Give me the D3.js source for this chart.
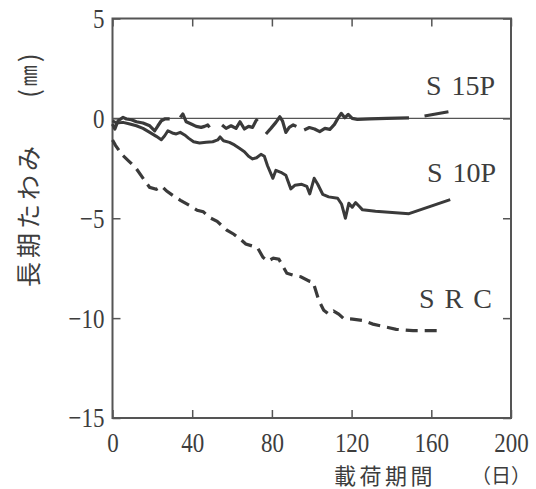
<!DOCTYPE html>
<html>
<head>
<meta charset="utf-8">
<script src="https://cdn.jsdelivr.net/npm/d3@7"></script>
<style>
    body { margin: 0; background: #fff; }
    svg { display: block; }
    .tick text { font-family: "Liberation Serif", serif; font-size: 28px; fill: #3d3d3d; }
    .tick line { stroke: #555; stroke-width: 1.5; }
</style>
</head>
<body>
<svg id="chart" width="536" height="489"></svg>
<script>
// days under load / long-term deflection (mm), null = gap in the drawn line
const s15pDays = [0, 1.2, 2.8, 5.3, 7, 9.5, 12, 15.3, 18.7, 21.2, 22.8, 24.5, 26.2, 28.7, 31,
    34, 35.3, 37, 39.5, 42, 44.5, 46.2, 47.8, 48.7, 52,
    55, 57, 59.5, 62, 64, 66.2, 68.3, 70.3, 72, 72.8, 75,
    77, 79.5, 82, 84, 85.3, 87, 88.7, 90.7, 92.3, 94,
    96.2, 98.8, 101.4, 104, 106.6, 109.1, 111.4, 113.1, 114.8, 116.6, 118.3, 120.3, 122.9, 129, 137.6, 148.8, 152,
    156.6, 168.6];
const s15pVals = [-0.28, -0.53, -0.12, 0.05, -0.03, -0.07, -0.17, -0.23, -0.37, -0.62, -0.37, -0.12, -0.03, -0.03, null,
    0.05, 0.22, -0.17, -0.28, -0.4, -0.45, -0.4, -0.33, -0.45, null,
    -0.33, -0.5, -0.37, -0.5, -0.17, -0.53, -0.4, -0.45, -0.12, -0.03, null,
    -0.78, -0.5, -0.2, 0.08, -0.12, -0.7, -0.45, -0.33, -0.4, null,
    -0.58, -0.46, -0.53, -0.66, -0.5, -0.55, -0.3, 0, 0.25, 0.03, 0.2, 0, -0.05, -0.03, 0, 0.03, null,
    0.12, 0.33];

const s10pDays = [0, 2, 5.3, 8.7, 12, 15.3, 18.7, 22, 24.5, 26.2, 27.8, 30, 32, 34, 36.2, 38.3, 40.7, 43.7,
    47, 50.3, 52.8, 54, 55.7, 58.7, 61.2, 63.7, 66.2, 68.3, 70.3, 72.3, 74.5, 76.2, 77.8, 80.5, 82,
    84.5, 87, 89.5, 91.5, 95, 97.5, 99, 101.2, 103, 105.5, 108.5, 113, 115, 116.9, 118.6, 120.3, 122,
    123.8, 125.5, 132, 148.8, 169.5];
const s10pVals = [-0.12, -0.23, -0.2, -0.28, -0.37, -0.5, -0.7, -0.9, -1.07, -0.87, -0.62, -0.73, -0.78, -0.7, -0.83, -1.0, -1.17, -1.23,
    -1.2, -1.17, -1.08, -0.93, -1.12, -1.2, -1.33, -1.5, -1.67, -1.9, -2.03, -1.97, -1.8, -1.9, -2.37, -3.0, -2.6,
    -2.7, -2.85, -3.53, -3.35, -3.3, -3.4, -3.78, -3.0, -3.3, -3.8, -3.93, -4.0, -4.3, -5.0, -4.25, -4.45, -4.22,
    -4.4, -4.58, -4.65, -4.77, -4.07];

const srcDays = [0, 1.5, 4.8, 8.3, 11.7, 15.2, 18.6, 22, 24.7, 27.2, 30.7, 34.1, 39.3, 42.5, 45.5, 48.8,
    52.5, 57.4, 60.9, 64.5, 66.9, 70.5, 72.9, 75.5, 78, 80.7, 83.5, 87.5, 91, 94.5, 98.8, 100.7, 103.5,
    106, 108.5, 111, 113.5, 116, 120.5, 125.5, 130.7, 136, 142.4, 150.8, 158, 166];
const srcVals = [-1.08, -1.35, -1.82, -2.15, -2.48, -2.98, -3.45, -3.55, -3.4, -3.64, -3.89, -4.1, -4.4, -4.6, -4.67, -4.97,
    -5.15, -5.6, -5.8, -6.08, -6.29, -6.4, -6.5, -6.95, -7.15, -7.0, -7.05, -7.75, -7.86, -7.93, -8.15, -8.2, -9.1,
    -9.6, -9.8, -9.65, -9.8, -10.02, -10.05, -10.12, -10.3, -10.42, -10.56, -10.63, -10.63, -10.63];

const xTicks = [0, 40, 80, 120, 160, 200];
const yTicks = [5, 0, -5, -10, -15];
const seriesNames = ["S 15P", "S 10P", "S R C"];

const svg = d3.select("#chart");

const x = d3.scaleLinear().domain([0, 200]).range([112.5, 511]);
const y = d3.scaleLinear().domain([-15, 5]).range([418, 18.5]);

// narrow the serif digits like the original type
function squeeze(sel, k) {
    sel.each(function () {
        let w = this.getComputedTextLength();
        d3.select(this).attr("textLength", w * k).attr("lengthAdjust", "spacingAndGlyphs");
    });
}

// zero line
svg.append("line")
    .attr("x1", x(0)).attr("x2", x(200))
    .attr("y1", y(0)).attr("y2", y(0))
    .attr("stroke", "#555").attr("stroke-width", 1.2);

// axes, ticks pointing inwards
let gx = svg.append("g").attr("transform", `translate(0,${y(-15)})`)
    .call(d3.axisBottom(x).tickValues(xTicks).tickSizeInner(-8).tickSizeOuter(0).tickPadding(14));
let gy = svg.append("g").attr("transform", `translate(${x(0)},0)`)
    .call(d3.axisLeft(y).tickValues(yTicks).tickSizeInner(-8).tickSizeOuter(0).tickPadding(8));
svg.append("g").attr("transform", `translate(0,${y(5)})`)
    .call(d3.axisTop(x).tickValues(xTicks).tickSizeInner(-8).tickSizeOuter(0).tickFormat(""));
svg.append("g").attr("transform", `translate(${x(200)},0)`)
    .call(d3.axisRight(y).tickValues(yTicks).tickSizeInner(-8).tickSizeOuter(0).tickFormat(""));

svg.selectAll(".domain").remove();
squeeze(gx.selectAll(".tick text"), 0.82);
squeeze(gy.selectAll(".tick text"), 0.82);

// frame
svg.append("rect")
    .attr("x", x(0)).attr("y", y(5))
    .attr("width", x(200) - x(0)).attr("height", y(-15) - y(5))
    .attr("fill", "none").attr("stroke", "#555").attr("stroke-width", 2);

const line = d3.line()
    .defined(d => d[1] != null)
    .x(d => x(d[0]))
    .y(d => y(d[1]));

svg.append("path")
    .datum(d3.zip(s15pDays, s15pVals))
    .attr("d", line)
    .attr("fill", "none").attr("stroke", "#3a3a3a").attr("stroke-width", 3.2)
    .attr("stroke-linejoin", "round");

svg.append("path")
    .datum(d3.zip(s10pDays, s10pVals))
    .attr("d", line)
    .attr("fill", "none").attr("stroke", "#3a3a3a").attr("stroke-width", 3)
    .attr("stroke-linejoin", "round");

svg.append("path")
    .datum(d3.zip(srcDays, srcVals))
    .attr("d", line)
    .attr("fill", "none").attr("stroke", "#3a3a3a").attr("stroke-width", 3.2)
    .attr("stroke-dasharray", "12,7");

// series labels
const labelPos = [[426, 95], [427, 182], [419, 308]];
svg.selectAll(".series-label")
    .data(seriesNames)
    .join("text")
    .attr("class", "series-label")
    .attr("x", (d, i) => labelPos[i][0])
    .attr("y", (d, i) => labelPos[i][1])
    .attr("font-family", "Liberation Serif, serif")
    .attr("font-size", 28)
    .attr("word-spacing", 3)
    .attr("fill", "#3d3d3d")
    .text(d => d);

// axis titles
svg.append("text")
    .attr("x", 334).attr("y", 474)
    .attr("dominant-baseline", "central")
    .attr("font-family", "Noto Sans CJK JP, sans-serif")
    .attr("font-size", 22).attr("letter-spacing", 3.5)
    .attr("fill", "#3d3d3d")
    .text("載荷期間");

svg.append("text")
    .attr("x", 471).attr("y", 474)
    .attr("dominant-baseline", "central")
    .attr("font-family", "Noto Sans CJK JP, sans-serif")
    .attr("font-size", 20)
    .attr("fill", "#3d3d3d")
    .text("（日）");

svg.append("text")
    .attr("transform", "translate(27,287) rotate(-90)")
    .attr("dominant-baseline", "central")
    .attr("font-family", "Noto Sans CJK JP, sans-serif")
    .attr("font-size", 25).attr("letter-spacing", 4)
    .attr("fill", "#3d3d3d")
    .text("長期たわみ");

let unit = svg.append("text")
    .attr("transform", "translate(27,98) rotate(-90)")
    .attr("dominant-baseline", "central")
    .attr("font-family", "Noto Sans CJK JP, sans-serif")
    .attr("letter-spacing", 3)
    .attr("fill", "#3d3d3d");
unit.append("tspan").attr("font-size", 26).text("(");
unit.append("tspan").attr("font-size", 21).text("㎜");
unit.append("tspan").attr("font-size", 26).text(")");
</script>
</body>
</html>
